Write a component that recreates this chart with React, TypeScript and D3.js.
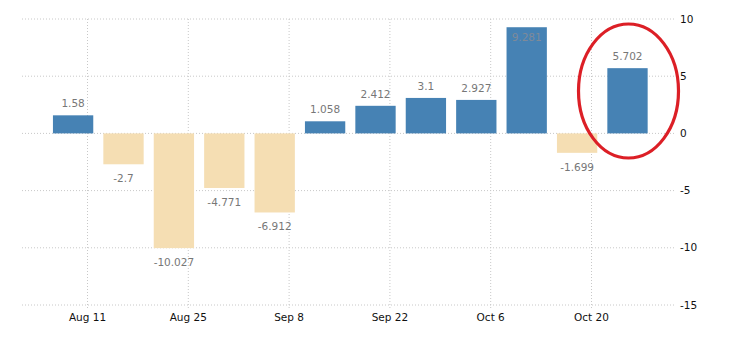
import React from "react";
import * as d3 from "d3";

const barDates: string[] = [
  "2017-08-09", "2017-08-16", "2017-08-23", "2017-08-30", "2017-09-06", "2017-09-13",
  "2017-09-20", "2017-09-27", "2017-10-04", "2017-10-11", "2017-10-18", "2017-10-25",
];
const values: number[] = [1.58, -2.7, -10.027, -4.771, -6.912, 1.058, 2.412, 3.1, 2.927, 9.281, -1.699, 5.702];
const valueLabels: string[] = ["1.58", "-2.7", "-10.027", "-4.771", "-6.912", "1.058", "2.412", "3.1", "2.927", "9.281", "-1.699", "5.702"];
const tickDates: string[] = ["2017-08-11", "2017-08-25", "2017-09-08", "2017-09-22", "2017-10-06", "2017-10-20"];
const tickLabels: string[] = ["Aug 11", "Aug 25", "Sep 8", "Sep 22", "Oct 6", "Oct 20"];
const yTicks: number[] = [10, 5, 0, -5, -10, -15];

const W = 730;
const H = 340;
const FONT = "'DejaVu Sans', Verdana, sans-serif";

export default function App() {
  const parse = (s: string) => new Date(s + "T00:00:00Z");
  const x = d3.scaleUtc().domain([parse(tickDates[0]), parse(tickDates[tickDates.length - 1])]).range([87.5, 591.5]);
  const y = d3.scaleLinear().domain([-15, 10]).range([305, 19]);
  const left = 22;
  const right = 675;
  const dayPx = (x(parse("2017-08-18")) - x(parse("2017-08-11"))) / 7;
  const barW = dayPx * 7 * 0.8;

  return (
    <svg width={W} height={H} style={{ position: "absolute", left: 0, top: 0, background: "#fff" }}>
      <rect x={0} y={0} width={W} height={H} fill="#fff" />
      {yTicks.map((t) => (
        <g key={"y" + t}>
          <line x1={left} x2={right} y1={y(t)} y2={y(t)} stroke="#c8c8c8" strokeDasharray="1,2" strokeWidth={1} />
          <text x={680} y={y(t)} dy="0.35em" fontFamily={FONT} fontSize={10.5} fill="#111">{t}</text>
        </g>
      ))}
      {tickDates.map((d, i) => (
        <g key={"x" + d}>
          <line x1={x(parse(d))} x2={x(parse(d))} y1={y(10)} y2={y(-15) + 4} stroke="#c8c8c8" strokeDasharray="1,2" strokeWidth={1} />
          <text x={x(parse(d))} y={321} textAnchor="middle" fontFamily={FONT} fontSize={10.5} fill="#111">{tickLabels[i]}</text>
        </g>
      ))}
      {values.map((v, i) => {
        const cx = x(parse(barDates[i]));
        const y0 = y(0);
        const yv = y(v);
        const pos = v >= 0;
        const inside = pos && yv < 40;
        let ly: number;
        if (pos) ly = inside ? yv + 14 : yv - 8;
        else ly = yv + 18;
        return (
          <g key={"b" + i}>
            <rect x={cx - barW / 2} y={Math.min(y0, yv)} width={barW} height={Math.abs(yv - y0)} fill={pos ? "#4682b4" : "#f5deb3"} />
            <text x={cx} y={ly} textAnchor="middle" fontFamily={FONT} fontSize={10.5} fill={inside ? "#7f8a99" : "#777"}>{valueLabels[i]}</text>
          </g>
        );
      })}
      <ellipse cx={628.5} cy={91} rx={50} ry={67} fill="none" stroke="#dc1f26" strokeWidth={3.2} />
    </svg>
  );
}
